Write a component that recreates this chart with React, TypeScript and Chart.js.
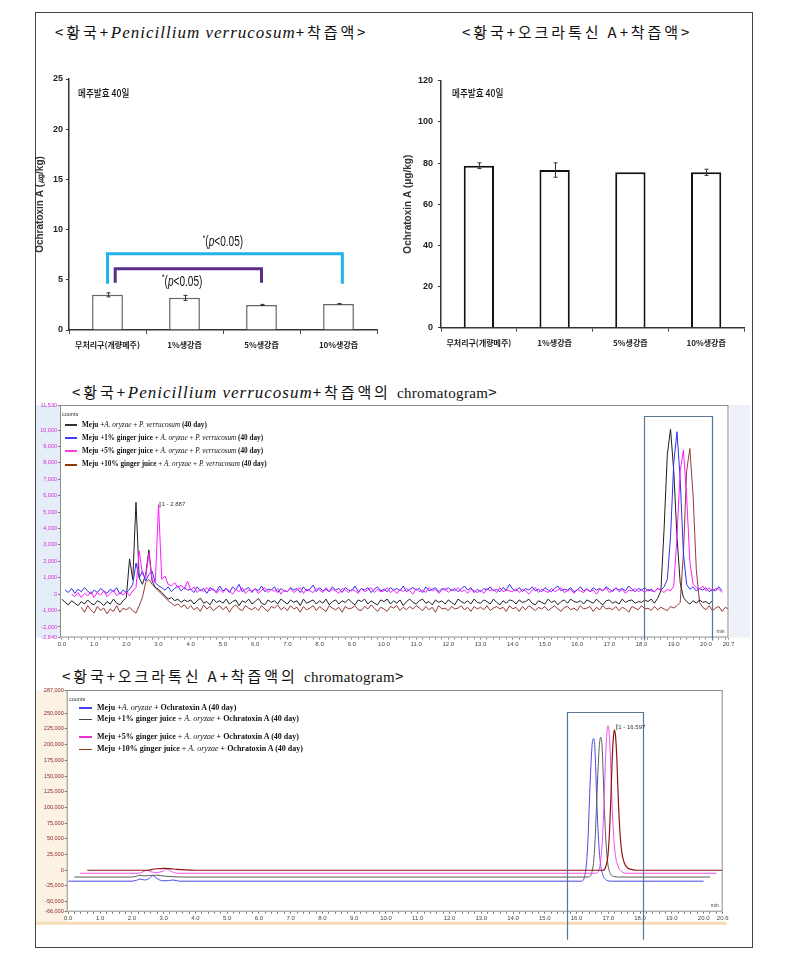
import React, { useEffect, useRef } from 'react';
import { Chart, registerables } from 'chart.js';

Chart.register(...registerables);

const KR = "'Noto Sans CJK KR', sans-serif";
const SERIF = "'Liberation Serif', 'Times New Roman', serif";
const SANS = "'Liberation Sans', Arial, sans-serif";

// ---------- bar charts ----------
const BAR_CATEGORIES = ['무처리구(개량메주)', '1%생강즙', '5%생강즙', '10%생강즙'];
const PV_VALUES = [3.5, 3.2, 2.5, 2.6];
const PV_ERRORS = [0.2, 0.25, 0.05, 0.03];
const PV_Y_TICKS = [0, 5, 10, 15, 20, 25];
const OTA_VALUES = [78.7, 76.6, 75.5, 75.5];
const OTA_ERRORS = [1.4, 3.5, 0, 1.5];
const OTA_Y_TICKS = [0, 20, 40, 60, 80, 100, 120];
// [from category, to category, top value, leg end value, text category, text value]
const BRACKET_OUTER = [0, 3.05, 7.6, 4.6, 1.5, 8.75];
const BRACKET_INNER = [0.1, 2.0, 6.1, 4.7, 0.97, 4.8];

// ---------- chromatogram 1 (P. verrucosum) ----------
const CH1_LABELS = [
  [['Meju +', 'b'], ['A. oryzae', 'i'], [' + ', 'n'], ['P. verrucosum', 'i'], [' (40 day)', 'b']],
  [['Meju +1% ginger juice', 'b'], [' + ', 'n'], ['A. oryzae', 'i'], [' + ', 'n'], ['P. verrucosum', 'i'], [' (40 day)', 'b']],
  [['Meju +5% ginger juice', 'b'], [' + ', 'n'], ['A. oryzae', 'i'], [' + ', 'n'], ['P. verrucosum', 'i'], [' (40 day)', 'b']],
  [['Meju +10% ginger juice', 'b'], [' + ', 'n'], ['A. oryzae', 'i'], [' + ', 'n'], ['P. verrucosum', 'i'], [' (40 day)', 'b']],
];
const CH1_COLORS = ['#1e1e1e', '#2f2ff2', '#ff1aff', '#943a3a'];
const CH1_LEGEND_COLORS = ['#333333', '#4040ff', '#ff40e0', '#8b3a00'];
const CH1_Y_TICKS = [-2640, -2000, -1000, 0, 1000, 2000, 3000, 4000, 5000, 6000, 7000, 8000, 9000, 10000, 11530];
const CH1_STEP = 0.1; // minutes between samples
const CH1_BLACK = [
  -300, -500, -650, -400, -550, -700, -450, -600, -350, -550,
  -650, -400, -500, -700, -450, -600, -300, -550, -650, -400,
  -200, 2150, 900, 5600, 1000, 600, 1200, 2700, 800, 400,
  300, 100, -100, -300, -200, -400, -300, -500, -350, -450,
  -350, -600, -400, -250, -550, -450, -650, -300, -500, -400,
  -550, -300, -600, -450, -350, -700, -400, -500, -300, -600,
  -450, -250, -550, -650, -350, -500, -400, -600, -300, -450,
  -600, -350, -500, -400, -700, -300, -550, -450, -350, -600,
  -400, -550, -300, -650, -450, -350, -600, -400, -500, -300,
  -500, -650, -350, -450, -300, -600, -400, -550, -650, -350,
  -450, -300, -600, -400, -550, -350, -700, -450, -300, -500,
  -600, -400, -300, -550, -450, -650, -350, -500, -400, -600,
  -350, -500, -650, -300, -450, -550, -400, -600, -300, -500,
  -550, -350, -450, -600, -300, -500, -650, -400, -550, -350,
  -400, -600, -350, -500, -450, -300, -550, -650, -400, -500,
  -600, -300, -500, -400, -650, -450, -350, -550, -300, -450,
  -500, -400, -600, -350, -450, -550, -300, -500, -650, -400,
  -350, -550, -450, -600, -300, -500, -400, -350, -550, -450,
  -500, -350, -450, -300, -550, -250, 200, 4000, 8500, 10060,
  7500, 3500, 700, -200, -450, -600, -400, -550, -350, -500,
  -450, -600, -400, null, null, null, null, null,
];
const CH1_BLUE = [
  null, 250, 100, 350, 50, 300, 150, 400, 200, 0,
  250, 100, 350, 200, 50, 300, 150, 400, 0, 250,
  100, 300, 600, 1900, 1000, 1400, 800, 1200, 1400, 700,
  500, 400, 250, 450, 150, 350, 500, 200, 400, 250,
  300, 100, 450, 200, 350, 50, 400, 250, 150, 500,
  200, 350, 100, 450, 250, 600, 150, 300, 400, 100,
  350, 200, 500, 150, 300, 250, 450, 100, 350, 200,
  150, 400, 250, 350, 100, 450, 200, 300, 550, 150,
  400, 200, 300, 150, 450, 250, 350, 100, 400, 250,
  200, 500, 150, 350, 250, 400, 100, 300, 450, 200,
  300, 150, 400, 250, 350, 200, 500, 150, 300, 400,
  250, 350, 100, 450, 200, 300, 400, 150, 350, 250,
  400, 200, 350, 150, 300, 500, 250, 400, 100, 300,
  150, 350, 250, 450, 200, 300, 150, 400, 250, 600,
  300, 200, 400, 150, 350, 250, 450, 200, 300, 150,
  400, 250, 150, 350, 500, 200, 300, 250, 400, 150,
  250, 450, 200, 300, 150, 400, 250, 350, 200, 450,
  300, 150, 400, 250, 350, 200, 500, 300, 150, 350,
  250, 400, 200, 300, 150, 350, 250, 450, 900, 3500,
  8000, 9900, 7000, 2500, 600, 300, 450, 200, 350, 250,
  400, 150, 300, 200, 450, 200, null, null,
];
const CH1_MAGENTA = [
  null, null, null, 0, -150, 100, -200, 50, -100, 150,
  -200, 100, -50, 200, -150, 50, 250, -100, 100, -50,
  150, -100, 200, 400, 2650, 1200, 1000, 2500, 900, 700,
  5450, 900, 1100, 600, 500, 700, 400, 550, 300, 800,
  250, 450, 100, 300, 150, 400, 200, 350, 50, 300,
  100, 350, 200, 0, 300, 150, 400, 50, 250, 200,
  300, 50, 250, 400, 100, 300, 150, 350, 0, 250,
  150, 350, 100, 250, 400, 50, 300, 200, 100, 350,
  250, 100, 400, 150, 300, 200, 50, 350, 250, 100,
  300, 200, 50, 350, 150, 250, 400, 100, 300, 150,
  200, 400, 100, 250, 50, 300, 150, 350, 200, 0,
  350, 150, 250, 100, 400, 200, 300, 50, 250, 350,
  100, 300, 200, 400, 150, 250, 50, 300, 200, 100,
  250, 50, 350, 200, 300, 100, 400, 150, 250, 200,
  150, 350, 100, 300, 200, 0, 250, 400, 100, 300,
  200, 100, 350, 150, 250, 400, 100, 200, 300, 50,
  300, 200, 100, 350, 150, 250, 0, 300, 200, 400,
  100, 250, 350, 150, 300, 50, 250, 200, 350, 150,
  250, 100, 300, 200, 150, 350, 250, 100, 300, 200,
  500, 3500, 7500, 8790, 6000, 2000, 600, 400, 300, 500,
  200, 400, 150, 350, 300, 100, null, null,
];
const CH1_BROWN = [
  null, null, null, null, null, null, -800, -1100, -700, -950,
  -1150, -750, -1000, -850, -1200, -900, -1050, -700, -1100, -850,
  -950, -800, -1000, -1150, -700, -200, 700, 900, 600, 400,
  200, 0, -200, -400, -550, -700, -600, -800, -650, -900,
  -700, -950, -800, -1050, -650, -900, -750, -1000, -850, -700,
  -950, -750, -1100, -800, -650, -900, -1000, -700, -850, -950,
  -800, -1000, -700, -900, -1050, -750, -850, -650, -950, -800,
  -1000, -700, -900, -800, -1100, -750, -950, -850, -700, -1000,
  -750, -900, -1050, -700, -850, -950, -800, -1100, -750, -900,
  -850, -700, -950, -1000, -750, -900, -650, -850, -1050, -800,
  -900, -1050, -750, -850, -700, -1000, -800, -950, -750, -900,
  -700, -850, -1000, -750, -950, -800, -1100, -700, -900, -850,
  -1000, -750, -900, -850, -700, -950, -800, -1050, -750, -900,
  -800, -950, -700, -1000, -850, -750, -900, -800, -1050, -700,
  -900, -800, -1050, -750, -950, -700, -850, -1000, -800, -900,
  -750, -1000, -850, -700, -900, -1050, -800, -750, -950, -850,
  -1000, -700, -900, -850, -750, -1050, -800, -950, -700, -900,
  -850, -950, -750, -1000, -800, -900, -1100, -750, -850, -950,
  -700, -900, -850, -1000, -750, -950, -800, -900, -1000, -750,
  -850, -700, -500, 2500, 7500, 8880, 6000, 1500, -500, -800,
  -950, -700, -1000, -850, -750, -1050, -800, -900,
];
const CH1_HIGHLIGHT = [18.08, 20.18, 10840];
const CH1_PEAK_LABEL = ['1 - 2.887', 3.0, 5450];

// ---------- chromatogram 2 (ochratoxin A) ----------
const CH2_LABELS = [
  [['Meju +', 'b'], ['A. oryzae', 'i'], [' + Ochratoxin A (40 day)', 'b']],
  [['Meju +1% ginger juice', 'b'], [' + ', 'n'], ['A. oryzae', 'i'], [' + Ochratoxin A (40 day)', 'b']],
  [['Meju +5% ginger juice', 'b'], [' + ', 'n'], ['A. oryzae', 'i'], [' + Ochratoxin A (40 day)', 'b']],
  [['Meju +10% ginger juice', 'b'], [' + ', 'n'], ['A. oryzae', 'i'], [' + Ochratoxin A (40 day)', 'b']],
];
const CH2_COLORS = ['#4848e6', '#5a5a5a', '#f04cf0', '#8e1414'];
const CH2_LEGEND_COLORS = ['#4444ee', '#444444', '#ee33cc', '#8b3a10'];
const CH2_Y_TICKS = [-66000, -50000, -25000, 0, 25000, 50000, 75000, 100000, 125000, 150000, 175000, 200000, 225000, 250000, 287000];
const CH2_BLUE_T = [0.0, 2.0, 2.15, 2.26, 2.4, 2.55, 2.66, 2.8, 2.98, 3.15, 3.3, 3.5, 16.15, 16.24, 16.31, 16.36, 16.4, 16.45, 16.49, 16.53, 16.57, 16.6, 16.64, 16.69, 16.75, 16.83, 16.95, 17.1, 20.0];
const CH2_BLUE_V = [-17400, -17400, -16000, -14000, -15500, -13000, -8500, -13500, -16800, -16500, -15500, -17400, -17400, -12000, 10000, 50000, 105000, 165000, 200000, 209600, 200000, 165000, 105000, 50000, 12000, -8000, -16000, -17400, -17400];
const CH2_GREY_T = [0.19, 2.0, 2.15, 2.26, 2.4, 2.6, 2.75, 2.9, 3.05, 3.3, 3.6, 16.38, 16.47, 16.54, 16.59, 16.63, 16.68, 16.72, 16.76, 16.8, 16.83, 16.87, 16.92, 16.98, 17.06, 17.18, 17.35, 20.2];
const CH2_GREY_V = [-10800, -10800, -9500, -8000, -9000, -8200, -7800, -8500, -9500, -10300, -10800, -10800, -5000, 15000, 55000, 105000, 165000, 200000, 211700, 200000, 165000, 105000, 50000, 12000, -5000, -10000, -10800, -10800];
const CH2_MAGENTA_T = [0.37, 2.2, 2.35, 2.48, 2.6, 2.8, 2.95, 3.1, 3.25, 3.45, 16.62, 16.71, 16.78, 16.83, 16.87, 16.91, 16.95, 16.99, 17.03, 17.07, 17.11, 17.16, 17.22, 17.3, 17.42, 17.6, 20.4];
const CH2_MAGENTA_V = [-4800, -4800, -2500, 0, -2500, -3500, -2000, 2000, -2000, -4800, -4800, 2000, 25000, 65000, 115000, 175000, 215000, 230000, 215000, 175000, 115000, 60000, 25000, 7000, -2000, -4800, -4800];
const CH2_BROWN_T = [0.6, 2.5, 2.7, 2.85, 3.0, 3.2, 3.4, 3.7, 4.0, 16.83, 16.92, 16.99, 17.04, 17.08, 17.12, 17.16, 17.19, 17.23, 17.27, 17.31, 17.36, 17.42, 17.5, 17.6, 17.72, 17.9, 20.6];
const CH2_BROWN_V = [0, 0, 2000, 2500, 3000, 2500, 1500, 500, 0, 0, 6000, 25000, 65000, 115000, 175000, 212000, 223400, 212000, 175000, 118000, 65000, 30000, 12000, 4000, 1500, 0, 0];
const CH2_HIGHLIGHT = [15.7, 18.08, 252500];
const CH2_PEAK_LABEL = ['1 - 16.597', 17.22, 228000];

// ---------- helpers ----------
function drawSig(ctx: CanvasRenderingContext2D, cx: number, cy: number) {
  const parts: [string, string, number][] = [
    ['*', `9px ${SANS}`, -4],
    ['(', `14px ${SANS}`, 0],
    ['p', `italic 14px ${SANS}`, 0],
    ['<0.05)', `14px ${SANS}`, 0],
  ];
  ctx.save();
  ctx.translate(cx, cy);
  ctx.scale(0.72, 1);
  let w = 0;
  parts.forEach(([t, f]) => { ctx.font = f; w += ctx.measureText(t).width; });
  let x = -w / 2;
  ctx.textBaseline = 'middle';
  ctx.textAlign = 'left';
  ctx.fillStyle = '#111';
  parts.forEach(([t, f, dy]) => { ctx.font = f; ctx.fillText(t, x, dy); x += ctx.measureText(t).width; });
  ctx.restore();
}

const barNotes = {
  id: 'barNotes',
  afterDatasetsDraw(chart: any, _args: any, o: any) {
    const { ctx, chartArea: ca } = chart;
    const xs = chart.scales.x;
    const ys = chart.scales.y;
    const meta = chart.getDatasetMeta(0);
    const vals = chart.data.datasets[0].data;
    ctx.save();
    ctx.strokeStyle = o.errColor;
    ctx.lineWidth = 1;
    meta.data.forEach((bar: any, i: number) => {
      const e = o.errors[i];
      if (!e) return;
      const x = Math.round(bar.x) + 0.5;
      const y1 = ys.getPixelForValue(vals[i] + e);
      const y2 = ys.getPixelForValue(vals[i] - e);
      ctx.beginPath();
      ctx.moveTo(x, y1); ctx.lineTo(x, y2);
      ctx.moveTo(x - 2, y1); ctx.lineTo(x + 2, y1);
      ctx.moveTo(x - 2, y2); ctx.lineTo(x + 2, y2);
      ctx.stroke();
    });
    (o.brackets || []).forEach((b: any) => {
      const [from, to, top, leg, tx, ty] = b.data;
      ctx.strokeStyle = b.color;
      ctx.lineWidth = 3;
      ctx.lineJoin = 'miter';
      ctx.lineCap = 'butt';
      const x1 = xs.getPixelForValue(from);
      const x2 = xs.getPixelForValue(to);
      ctx.beginPath();
      ctx.moveTo(x1, ys.getPixelForValue(leg));
      ctx.lineTo(x1, ys.getPixelForValue(top));
      ctx.lineTo(x2, ys.getPixelForValue(top));
      ctx.lineTo(x2, ys.getPixelForValue(leg));
      ctx.stroke();
      drawSig(ctx, xs.getPixelForValue(tx), ys.getPixelForValue(ty));
    });
    ctx.translate(ca.left + o.noteDx, ca.top + o.noteDy);
    ctx.scale(0.82, 1);
    ctx.font = `500 10.5px ${KR}`;
    ctx.textBaseline = 'middle';
    ctx.textAlign = 'left';
    ctx.fillStyle = '#111';
    ctx.fillText('메주발효 40일', 0, 0);
    ctx.restore();
  },
};

function barConfig(p: any): any {
  return {
    type: 'bar',
    data: {
      labels: BAR_CATEGORIES,
      datasets: [{
        data: p.values,
        backgroundColor: '#ffffff',
        borderColor: p.barBorder,
        borderWidth: p.barBorderWidth,
        borderSkipped: 'bottom',
        barPercentage: 0.4,
        categoryPercentage: 1,
      }],
    },
    options: {
      responsive: false,
      animation: false,
      devicePixelRatio: 1,
      layout: { padding: { top: p.padTop, right: p.padRight, left: 0, bottom: 0 } },
      plugins: {
        legend: { display: false },
        tooltip: { enabled: false },
        barNotes: { errors: p.errors, errColor: '#333', brackets: p.brackets, noteDx: p.noteDx, noteDy: p.noteDy },
      },
      scales: {
        x: {
          grid: { offset: true, drawOnChartArea: false, drawTicks: true, tickLength: 4, color: '#444' },
          border: { color: '#333', width: 1.5 },
          ticks: { font: { family: KR, size: 8, weight: 'bold' }, color: '#222', padding: 6, maxRotation: 0, autoSkip: false },
          afterFit: (s: any) => { s.height = p.xHeight; },
        },
        y: {
          min: 0,
          max: p.yMax,
          afterBuildTicks: (s: any) => { s.ticks = p.yTicks.map((v: number) => ({ value: v })); },
          grid: { drawOnChartArea: false, drawTicks: true, tickLength: 3, color: '#333' },
          border: { color: '#333', width: 1.5 },
          ticks: { font: { family: SANS, size: 9, weight: 'bold' }, color: '#222', padding: p.tickPad },
          title: { display: true, text: p.yTitle, font: { family: SANS, size: 10, weight: 'bold' }, color: '#333', padding: { top: p.titlePad, bottom: 0 } },
          afterFit: (s: any) => { s.width = p.yWidth; },
        },
      },
    },
    plugins: [barNotes],
  };
}

const chromDecor = {
  id: 'chromDecor',
  beforeDraw(chart: any, _a: any, o: any) {
    const { ctx, chartArea: ca, width } = chart;
    ctx.save();
    ctx.fillStyle = o.band;
    ctx.fillRect(0, ca.top, ca.left, ca.bottom - ca.top + o.bandBelow);
    if (o.rightBand) {
      ctx.fillStyle = o.rightBand;
      ctx.fillRect(ca.right + 1, ca.top, width - ca.right - 1, ca.bottom - ca.top);
    }
    if (o.bottomBand) {
      ctx.fillStyle = o.bottomBand;
      ctx.fillRect(0, ca.bottom + o.bottomBandAt, ca.right + 4, 3);
    }
    ctx.restore();
  },
  afterDatasetsDraw(chart: any, _a: any, o: any) {
    const { ctx, chartArea: ca } = chart;
    const xs = chart.scales.x;
    const ys = chart.scales.y;
    ctx.save();
    ctx.strokeStyle = '#8c8c8c';
    ctx.lineWidth = 1;
    ctx.strokeRect(ca.left + 0.5, ca.top + 0.5, ca.right - ca.left - 1, ca.bottom - ca.top - 1);
    const [t1, t2, top] = o.box;
    const x1 = Math.round(xs.getPixelForValue(t1)) + 0.5;
    const x2 = Math.round(xs.getPixelForValue(t2)) + 0.5;
    const yT = Math.round(ys.getPixelForValue(top)) + 0.5;
    const yB = ca.bottom + o.boxBelow;
    ctx.strokeStyle = '#5a7493';
    ctx.lineWidth = 1.2;
    ctx.beginPath();
    ctx.moveTo(x1, yB); ctx.lineTo(x1, yT); ctx.lineTo(x2, yT); ctx.lineTo(x2, yB);
    ctx.stroke();
    ctx.fillStyle = '#444';
    ctx.font = `5px ${SANS}`;
    ctx.textBaseline = 'middle';
    ctx.fillText('min', ca.right - 12, ca.bottom - 6);
    const [label, lt, lv] = o.peak;
    const px = xs.getPixelForValue(lt);
    const py = ys.getPixelForValue(lv);
    ctx.strokeStyle = '#333';
    ctx.lineWidth = 0.8;
    ctx.beginPath(); ctx.moveTo(px + 1.5, py - 3); ctx.lineTo(px + 1.5, py + 3); ctx.stroke();
    ctx.font = `6px ${SANS}`;
    ctx.fillStyle = '#333';
    ctx.fillText(label, px + 3, py);
    ctx.restore();
  },
};

function chromConfig(p: any): any {
  const xTicks: number[] = [];
  for (let k = 0; k * 0.2 <= p.xMax - 0.1 + 1e-9; k++) xTicks.push(Math.round(k * 2) / 10);
  xTicks.push(p.xMax);
  return {
    type: 'line',
    data: { datasets: p.datasets },
    options: {
      responsive: false,
      animation: false,
      devicePixelRatio: 1,
      layout: { padding: { top: p.padTop, right: p.padRight, left: 0, bottom: 0 } },
      elements: { point: { radius: 0 }, line: { borderWidth: 1 } },
      plugins: {
        legend: { display: false },
        tooltip: { enabled: false },
        chromDecor: p.decor,
      },
      scales: {
        x: {
          type: 'linear',
          min: p.xMin,
          max: p.xMax,
          afterBuildTicks: (s: any) => { s.ticks = xTicks.map((v) => ({ value: v })); },
          grid: { drawOnChartArea: false, drawTicks: true, tickLength: 2, color: '#777' },
          border: { display: false },
          ticks: {
            font: { family: SANS, size: 6 },
            color: '#444',
            padding: 1,
            autoSkip: false,
            maxRotation: 0,
            minRotation: 0,
            callback: (v: number) => (Math.abs(v - Math.round(v)) < 1e-6 || v === p.xMax ? v.toFixed(1) : ''),
          },
          afterFit: (s: any) => { s.height = p.xHeight; },
        },
        y: {
          type: 'linear',
          min: p.yMin,
          max: p.yMax,
          afterBuildTicks: (s: any) => { s.ticks = p.yTicks.map((v: number) => ({ value: v })); },
          grid: { drawOnChartArea: false, drawTicks: true, tickLength: 2, color: '#777' },
          border: { display: false },
          ticks: {
            font: { family: SANS, size: 5.5 },
            color: p.yColor,
            padding: 1,
            autoSkip: false,
            callback: (v: number) => v.toLocaleString('en-US'),
          },
          afterFit: (s: any) => { s.width = p.yWidth; },
        },
      },
    },
    plugins: [chromDecor],
  };
}

function gridSeries(values: (number | null)[]) {
  return values.map((v, i) => ({ x: Math.round(i * CH1_STEP * 10) / 10, y: v }));
}
function pairSeries(ts: number[], vs: number[]) {
  return ts.map((t, i) => ({ x: t, y: vs[i] }));
}

function ChartCanvas({ left, top, width, height, make }: any) {
  const ref = useRef<HTMLCanvasElement | null>(null);
  useEffect(() => {
    if (!ref.current) return;
    const chart = new Chart(ref.current, make());
    return () => chart.destroy();
  }, []);
  return (
    <canvas
      ref={ref}
      width={width}
      height={height}
      style={{ position: 'absolute', left, top, width, height }}
    />
  );
}

function Legend({ rows, colors, tops, lineLeft, textLeft, size }: any) {
  return (
    <>
      {rows.map((row: any, i: number) => (
        <div key={i} style={{ position: 'absolute', left: lineLeft, top: tops[i] - 5, height: 10, lineHeight: '10px', whiteSpace: 'nowrap', fontFamily: SERIF, fontSize: size, color: '#111' }}>
          <span style={{ display: 'inline-block', width: textLeft - lineLeft - 5, height: 1.8, background: colors[i], verticalAlign: 'middle', marginRight: 5 }} />
          {row.map(([t, s]: [string, string], j: number) => (
            <span key={j} style={{ fontWeight: s === 'b' ? 'bold' : 'normal', fontStyle: s === 'i' ? 'italic' : 'normal', whiteSpace: 'pre' }}>{t}</span>
          ))}
        </div>
      ))}
    </>
  );
}

const krTitle: any = { fontFamily: KR, fontSize: 15, letterSpacing: 2.9 };
const itTitle: any = { fontFamily: SERIF, fontStyle: 'italic', fontSize: 17, letterSpacing: 1.0 };
const seTitle: any = { fontFamily: SERIF, fontSize: 15, letterSpacing: 0.3 };

export default function App() {
  return (
    <div style={{ position: 'absolute', left: 0, top: 0, width: 793, height: 954, background: '#fff', color: '#111' }}>
      <div style={{ position: 'absolute', left: 35, top: 12, width: 716, height: 934, border: '1px solid #444' }} />

      <div style={{ position: 'absolute', left: 55, top: 22, lineHeight: '20px', whiteSpace: 'nowrap' }}>
        <span style={krTitle}>&lt;황국+</span><span style={itTitle}>Penicillium verrucosum</span><span style={krTitle}>+착즙액&gt;</span>
      </div>
      <div style={{ position: 'absolute', left: 462, top: 22, lineHeight: '20px', whiteSpace: 'nowrap' }}>
        <span style={krTitle}>&lt;황국+오크라톡신 A+착즙액&gt;</span>
      </div>

      <ChartCanvas left={30} top={65} width={350} height={300} make={() => barConfig({
        values: PV_VALUES, errors: PV_ERRORS, yMax: 25, yTicks: PV_Y_TICKS,
        barBorder: '#666', barBorderWidth: 1.5,
        padTop: 14, padRight: 3, yWidth: 39, xHeight: 35, titlePad: 4, tickPad: 3,
        yTitle: 'Ochratoxin A (㎍/kg)',
        brackets: [
          { data: BRACKET_OUTER, color: '#1fb4ea' },
          { data: BRACKET_INNER, color: '#5a2d8c' },
        ],
        noteDx: 9, noteDy: 14,
      })} />
      <ChartCanvas left={395} top={65} width={360} height={300} make={() => barConfig({
        values: OTA_VALUES, errors: OTA_ERRORS, yMax: 120, yTicks: OTA_Y_TICKS,
        barBorder: '#111', barBorderWidth: 2,
        padTop: 15.7, padRight: 11, yWidth: 46, xHeight: 37.3, titlePad: 7, tickPad: 5,
        yTitle: 'Ochratoxin A (μg/kg)',
        brackets: [],
        noteDx: 11, noteDy: 12.3,
      })} />

      <div style={{ position: 'absolute', left: 72, top: 382, lineHeight: '20px', whiteSpace: 'nowrap' }}>
        <span style={krTitle}>&lt;황국+</span><span style={itTitle}>Penicillium verrucosum</span><span style={krTitle}>+착즙액의 </span><span style={seTitle}>chromatogram</span><span style={krTitle}>&gt;</span>
      </div>

      <ChartCanvas left={36} top={398} width={714} height={255} make={() => chromConfig({
        datasets: [
          { data: gridSeries(CH1_MAGENTA), borderColor: CH1_COLORS[2], order: 0, spanGaps: false },
          { data: gridSeries(CH1_BLUE), borderColor: CH1_COLORS[1], order: 1, spanGaps: false },
          { data: gridSeries(CH1_BLACK), borderColor: CH1_COLORS[0], order: 2, spanGaps: false },
          { data: gridSeries(CH1_BROWN), borderColor: CH1_COLORS[3], order: 3, spanGaps: false },
        ],
        xMin: -0.06, xMax: 20.7, yMin: -2640, yMax: 11530, yTicks: CH1_Y_TICKS,
        padTop: 7, padRight: 21.5, yWidth: 24, xHeight: 15.5, yColor: '#d22ed2',
        decor: { band: '#e5edf9', bandBelow: 0, rightBand: '#eef1f7', box: CH1_HIGHLIGHT, boxBelow: 3, peak: CH1_PEAK_LABEL },
      })} />
      <div style={{ position: 'absolute', left: 62, top: 411, fontFamily: SANS, fontSize: 5.5, color: '#333' }}>counts</div>
      <Legend rows={CH1_LABELS} colors={CH1_LEGEND_COLORS} tops={[425, 437.7, 451, 464.3]} lineLeft={65} textLeft={82} size={7.2} />

      <div style={{ position: 'absolute', left: 62, top: 666, lineHeight: '20px', whiteSpace: 'nowrap' }}>
        <span style={krTitle}>&lt;황국+오크라톡신 A+착즙액의 </span><span style={seTitle}>chromatogram</span><span style={krTitle}>&gt;</span>
      </div>

      <ChartCanvas left={36} top={684} width={714} height={260} make={() => chromConfig({
        datasets: [
          { data: pairSeries(CH2_MAGENTA_T, CH2_MAGENTA_V), borderColor: CH2_COLORS[2], order: 1, cubicInterpolationMode: 'monotone' },
          { data: pairSeries(CH2_BROWN_T, CH2_BROWN_V), borderColor: CH2_COLORS[3], order: 0, cubicInterpolationMode: 'monotone', borderWidth: 1.2 },
          { data: pairSeries(CH2_GREY_T, CH2_GREY_V), borderColor: CH2_COLORS[1], order: 2, cubicInterpolationMode: 'monotone' },
          { data: pairSeries(CH2_BLUE_T, CH2_BLUE_V), borderColor: CH2_COLORS[0], order: 3, cubicInterpolationMode: 'monotone' },
        ],
        xMin: -0.05, xMax: 20.6, yMin: -66000, yMax: 287000, yTicks: CH2_Y_TICKS,
        padTop: 6, padRight: 27.3, yWidth: 30.7, xHeight: 32.3, yColor: '#8b2525',
        decor: { band: '#fcf2e4', bandBelow: 10, bottomBand: '#f6dcb6', bottomBandAt: 10, box: CH2_HIGHLIGHT, boxBelow: 28, peak: CH2_PEAK_LABEL },
      })} />
      <div style={{ position: 'absolute', left: 69, top: 696, fontFamily: SANS, fontSize: 5.5, color: '#333' }}>counts</div>
      <Legend rows={CH2_LABELS} colors={CH2_LEGEND_COLORS} tops={[707.7, 719.3, 736.7, 749.3]} lineLeft={79} textLeft={97} size={8} />
    </div>
  );
}
